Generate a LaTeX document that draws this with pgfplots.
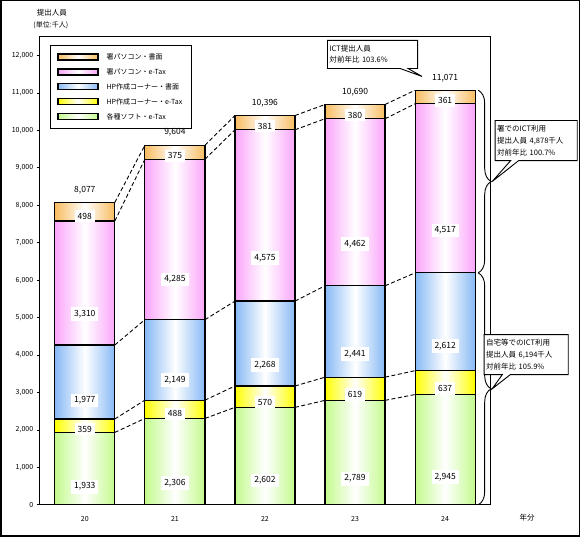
\documentclass[border=0pt]{standalone}
\usepackage{fontspec}
\setmainfont{Noto Sans CJK JP}
\usepackage{pgfplots}
\pgfplotsset{compat=1.18}
\usetikzlibrary{decorations.pathreplacing,shapes.callouts}
\definecolor{cOr}{RGB}{248,188,96}
\definecolor{cPk}{RGB}{250,165,250}
\definecolor{cBl}{RGB}{135,185,245}
\definecolor{cYe}{RGB}{255,255,0}
\definecolor{cGr}{RGB}{195,250,140}
\pgfplotsset{
  /pgf/number format/assume math mode=true,
  calc myoffset/.code={%
    \pgfkeys{/pgf/fpu=true,/pgf/fpu/output format=fixed}%
    \pgfmathsetmacro\myoffset{0.00935425*\pgfplotspointmeta}%
    \pgfkeys{/pgf/fpu=false}%
  },
  myaxis/.style={x=90pt, y=0.037417pt, xmin=-0.5, xmax=4.5, ymin=0, ymax=12500, clip=false},
  bars/.style={draw=black, line width=1.2pt, left color=#1, right color=#1, middle color=white},
  stackbars/.style={ybar stacked, bar width=60pt, point meta=rawy, nodes near coords,
    every node near coord/.style={/pgfplots/calc myoffset, anchor=center, yshift=-\myoffset pt, fill=white, inner xsep=3pt, inner ysep=3pt, text=black, font=\fontsize{8.5}{9}\selectfont}},
  sl/.style={black, line width=0.9pt, dash pattern=on 4pt off 2.5pt, unbounded coords=jump, mark=none},
}
% one stacked column per axis, so that each segment gets its own shading
\newcommand\barcol[6]{%
\begin{axis}[myaxis, stackbars, hide axis]
\addplot[bars=cGr] coordinates {(#1,#2)};
\addplot[bars=cYe] coordinates {(#1,#3)};
\addplot[bars=cBl] coordinates {(#1,#4)};
\addplot[bars=cPk] coordinates {(#1,#5)};
\addplot[bars=cOr] coordinates {(#1,#6)};
\end{axis}}
\begin{document}
\begin{tikzpicture}
\begin{axis}[myaxis, stackbars,
  axis line style={line width=1.2pt},
  xtick={0,1,2,3,4}, xticklabels={20,21,22,23,24},
  ytick={0,1000,...,12000},
  scaled y ticks=false,
  tick label style={font=\fontsize{7}{8}\selectfont},
  xtick pos=bottom, ytick pos=left,
  tick align=outside,
  major tick length=3pt,
  xtick style={draw=none},
  ytick style={black, line width=0.6pt},
  xticklabel style={yshift=-5pt},
  legend style={at={(0.0222,0.9829)}, anchor=north west, draw=black, line width=1.2pt, fill=white,
    font=\fontsize{7}{8}\selectfont, row sep=3.6pt, inner xsep=7pt, inner ysep=6pt,
    /tikz/every odd column/.append style={column sep=6pt}},
  reverse legend,
  legend cell align=left,
  legend image code/.code={\draw[#1] (0pt,-3pt) rectangle (40pt,3pt);},
]
\addplot[bars=cGr] coordinates {(0,1933)};
\addlegendentry{各種ソフト・e-Tax}
\addplot[bars=cYe] coordinates {(0,359)};
\addlegendentry{HP作成コーナー・e-Tax}
\addplot[bars=cBl] coordinates {(0,1977)};
\addlegendentry{HP作成コーナー・書面}
\addplot[bars=cPk] coordinates {(0,3310)};
\addlegendentry{署パソコン・e-Tax}
\addplot[bars=cOr] coordinates {(0,498)};
\addlegendentry{署パソコン・書面}
\end{axis}
\barcol{1}{2306}{488}{2149}{4285}{375}
\barcol{2}{2602}{570}{2268}{4575}{381}
\barcol{3}{2789}{619}{2441}{4462}{380}
\barcol{4}{2945}{637}{2612}{4517}{361}
\begin{axis}[myaxis, hide axis]
\addplot[sl] coordinates {(0.3333,1933) (0.6667,2306) (1,nan) (1.3333,2306) (1.6667,2602) (2,nan) (2.3333,2602) (2.6667,2789) (3,nan) (3.3333,2789) (3.6667,2945)};
\addplot[sl] coordinates {(0.3333,2292) (0.6667,2794) (1,nan) (1.3333,2794) (1.6667,3172) (2,nan) (2.3333,3172) (2.6667,3408) (3,nan) (3.3333,3408) (3.6667,3582)};
\addplot[sl] coordinates {(0.3333,4269) (0.6667,4943) (1,nan) (1.3333,4943) (1.6667,5440) (2,nan) (2.3333,5440) (2.6667,5849) (3,nan) (3.3333,5849) (3.6667,6194)};
\addplot[sl] coordinates {(0.3333,7579) (0.6667,9228) (1,nan) (1.3333,9228) (1.6667,10015) (2,nan) (2.3333,10015) (2.6667,10311) (3,nan) (3.3333,10311) (3.6667,10711)};
\addplot[sl] coordinates {(0.3333,8077) (0.6667,9603) (1,nan) (1.3333,9603) (1.6667,10396) (2,nan) (2.3333,10396) (2.6667,10691) (3,nan) (3.3333,10691) (3.6667,11072)};
\addplot[draw=none, mark=none, nodes near coords, point meta=explicit symbolic,
  every node near coord/.append style={anchor=center, yshift=12.5pt, font=\fontsize{8.5}{9}\selectfont}]
  coordinates {(0,8077) [8,077] (1,9604) [9,604] (2,10396) [10,396] (3,10690) [10,690] (4,11071) [11,071]};
\draw[decorate, decoration={brace, amplitude=13pt}, line width=0.9pt] (axis cs:4.367,11072) -- (axis cs:4.367,6194);
\draw[decorate, decoration={brace, amplitude=13pt}, line width=0.9pt] (axis cs:4.367,6194) -- (axis cs:4.367,0);
\coordinate (fsw) at (rel axis cs:-0.08667,-0.06624);
\coordinate (fne) at (rel axis cs:1.19778,1.07692);
\coordinate (c1) at (axis cs:3.194,12027);
\coordinate (p1) at (axis cs:3.744,11439);
\coordinate (c2) at (axis cs:5.011,9728);
\coordinate (p2) at (axis cs:4.522,8633);
\coordinate (c3) at (axis cs:4.9,4009);
\coordinate (p3) at (axis cs:4.522,3097);
\node[font=\fontsize{7.5}{8}\selectfont] at (rel axis cs:0.0267,1.0513) {提出人員};
\node[font=\fontsize{7}{8}\selectfont] at (rel axis cs:0.0245,1.0256) {(単位:千人)};
\node[font=\fontsize{7.5}{8}\selectfont] at (rel axis cs:1.0822,-0.0278) {年分};
\end{axis}
\draw[line width=1.5pt] (fsw) rectangle (fne);
\tikzset{co/.style={rectangle callout, draw=black, fill=white, line width=0.9pt, align=left, inner sep=2pt, callout pointer width=8pt}}
\node[co, callout absolute pointer={(p1)}, text width=86pt, minimum height=28pt, font=\fontsize{7.5}{11}\selectfont] at (c1) {ICT提出人員\\対前年比 103.6\%};
\node[co, callout absolute pointer={(p2)}, text width=78pt, minimum height=40pt, font=\fontsize{7.5}{12}\selectfont] at (c2) {署でのICT利用\\提出人員 4,878千人\\対前年比 100.7\%};
\node[co, callout absolute pointer={(p3)}, text width=80pt, minimum height=40pt, font=\fontsize{7.5}{12}\selectfont] at (c3) {自宅等でのICT利用\\提出人員 6,194千人\\対前年比 105.9\%};
\end{tikzpicture}
\end{document}
